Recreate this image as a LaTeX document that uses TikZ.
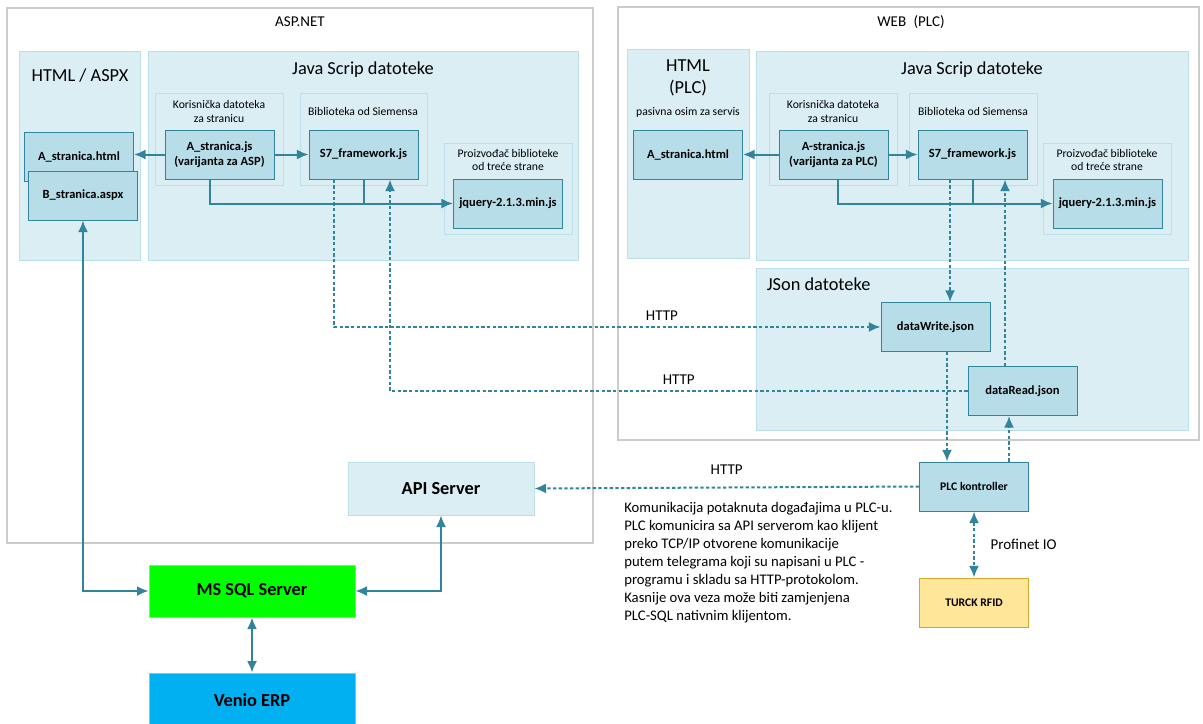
\documentclass[tikz,border=0pt]{standalone}
\usepackage{fontspec}
\setmainfont{Carlito}
\usetikzlibrary{arrows.meta}

\definecolor{tirkiz}{HTML}{31849B}
\definecolor{cvorplava}{HTML}{B7DDE8}
\definecolor{panelplava}{HTML}{DAEEF3}
\definecolor{rubplava}{HTML}{BCE0EA}
\definecolor{sivi}{HTML}{CCCCCC}
\definecolor{sqlzelena}{HTML}{00FF00}
\definecolor{erpplava}{HTML}{00B0F0}
\definecolor{rfidzuta}{HTML}{FFE699}
\definecolor{rfidrub}{HTML}{D4A82A}

\begin{document}
\begin{tikzpicture}[
      x=0.6pt, y=-0.6pt,
      >={Latex[length=7pt, width=6pt]},
      okvir/.style={draw=sivi, line width=0.8pt},
      panel/.style={draw=rubplava, fill=panelplava, line width=0.6pt},
      cvor/.style={draw=tirkiz, fill=cvorplava, line width=0.6pt, minimum width=65.4pt, minimum height=29.4pt, inner sep=1pt, align=center, font=\fontsize{7.5}{9}\selectfont\bfseries},
      veliki/.style={minimum width=123.6pt, minimum height=31.2pt, align=center, font=\fontsize{11}{13}\selectfont\bfseries},
      naslov/.style={font=\fontsize{11}{13.5}\selectfont, align=center},
      podnaslov/.style={font=\fontsize{7}{8.2}\selectfont, align=center},
      oznaka/.style={font=\fontsize{9}{11}\selectfont},
      strelica/.style={->, draw=tirkiz, line width=1.2pt},
      tocke/.style={->, draw=tirkiz, line width=1.2pt, dash pattern=on 2pt off 1.4pt}
    ]
      \useasboundingbox (0,0) rectangle (1203,724);

      % ASP.NET
      \draw[okvir] (7,8) rectangle (593,543);
      \node[oznaka] (aspnet) at (300,22) {ASP.NET};
      \draw[panel] (19,52) rectangle (140,260);
      \node[naslov] (htmlaspx) at (80,76) {HTML / ASPX};
      \draw[panel] (148,52) rectangle (578,260);
      \node[naslov] (jslijevo) at (363,70) {Java Scrip datoteke};
      \draw[panel] (155,94) rectangle (283,185);
      \node[podnaslov] (kor1) at (219,111.5) {Korisnička datoteka\\za stranicu};
      \draw[panel] (300,94) rectangle (427,185);
      \node[podnaslov] (bib1) at (363,111) {Biblioteka od Siemensa};
      \draw[panel] (444,143) rectangle (572,234);
      \node[podnaslov] (pro1) at (508,160) {Proizvođač biblioteke\\od treće strane};

      \node[cvor] (html1) at (79,156.5) {A\_stranica.html};
      \node[cvor] (aspx) at (83,195.5) {B\_stranica.aspx};
      \node[cvor] (ajs) at (219.5,154.5) {A\_stranica.js\\(varijanta za ASP)};
      \node[cvor] (s7a) at (363.5,154.5) {S7\_framework.js};
      \node[cvor] (jqa) at (508,203.5) {jquery-2.1.3.min.js};

      % WEB (PLC)
      \draw[okvir] (618,7) rectangle (1199,440);
      \node[oznaka] (web) at (911,22) {WEB\enspace(PLC)};
      \draw[panel] (627,50) rectangle (749,258);
      \node[naslov] (htmlplc) at (688,78) {HTML\\(PLC)};
      \node[podnaslov] (pasivna) at (688,112) {pasivna osim za servis};
      \draw[panel] (756,52) rectangle (1188,260);
      \node[naslov] (jsdesno) at (972,70) {Java Scrip datoteke};
      \draw[panel] (769,94) rectangle (897,185);
      \node[podnaslov] (kor2) at (833,111.5) {Korisnička datoteka\\za stranicu};
      \draw[panel] (909,94) rectangle (1037,185);
      \node[podnaslov] (bib2) at (973,111) {Biblioteka od Siemensa};
      \draw[panel] (1043,143) rectangle (1171,234);
      \node[podnaslov] (pro2) at (1107,160) {Proizvođač biblioteke\\od treće strane};

      \node[cvor] (html2) at (688,154.5) {A\_stranica.html};
      \node[cvor] (pjs) at (833.5,154.5) {A-stranica.js\\(varijanta za PLC)};
      \node[cvor] (s7b) at (972.5,154.5) {S7\_framework.js};
      \node[cvor] (jqb) at (1107.5,203.5) {jquery-2.1.3.min.js};

      \draw[panel] (756,268) rectangle (1188,430);
      \node[naslov, anchor=west] (json) at (761,284) {JSon datoteke};
      \node[cvor] (dw) at (935.5,327) {dataWrite.json};
      \node[cvor] (dr) at (1022.5,391) {dataRead.json};

      % donji dio
      \node[cvor, font=\fontsize{7}{8}\selectfont\bfseries] (plc) at (974,486.5) {PLC kontroller};
      \node[cvor, draw=rfidrub, fill=rfidzuta, font=\fontsize{7}{8}\selectfont\bfseries] (rfid) at (974,602.5) {TURCK RFID};
      \node[veliki, draw=rubplava, fill=panelplava, minimum width=111.6pt, minimum height=31.8pt] (api) at (441,488.5) {API Server};
      \node[veliki, draw=green!60!white, fill=sqlzelena] (sql) at (252,591) {MS SQL Server};
      \node[veliki, draw=erpplava!60!white, fill=erpplava, minimum height=32.4pt] (erp) at (252,700) {Venio ERP};
      \node[anchor=north west, inner sep=0pt, align=left, font=\fontsize{8.8}{10.8}\selectfont] (opis) at (624,502) {Komunikacija potaknuta događajima u PLC-u.\\PLC komunicira sa API serverom kao klijent\\preko TCP/IP otvorene komunikacije\\putem telegrama koji su napisani u PLC -\\programu i skladu sa HTTP-protokolom.\\Kasnije ova veza može biti zamjenjena\\PLC-SQL nativnim klijentom.};

      % veze lijevo
      \draw[strelica] (ajs.west) -- (ajs.west -| html1.east);
      \draw[strelica] (ajs.east) -- (s7a.west);
      \draw[strelica] ([xshift=-5.7pt]ajs.south) |- (jqa.west);
      \draw[tirkiz, line width=1.2pt] (s7a.south) -- (s7a.south |- jqa.west);

      % veze desno
      \draw[strelica] (pjs.west) -- (html2.east);
      \draw[strelica] (pjs.east) -- (s7b.west);
      \draw[strelica] ([xshift=2.7pt]pjs.south) |- (jqb.west);
      \draw[tirkiz, line width=1.2pt] (s7b.south) -- (s7b.south |- jqb.west);

      % HTTP veze
      \draw[tocke] ([xshift=-17.7pt]s7a.south) |- node[oznaka, above, pos=0.8] {HTTP} (dw.west);
      \draw[tocke] (dr.west) -| node[oznaka, above, pos=0.25] {HTTP} ([xshift=15.9pt]s7a.south);
      \draw[tocke] ([xshift=-13.5pt]s7b.south) -- ([xshift=-13.5pt]s7b.south |- dw.north);
      \draw[tocke] ([xshift=-10.5pt]dr.north) -- ([xshift=-10.5pt]dr.north |- s7b.south);
      \draw[tocke] ([xshift=6.9pt]dw.south) -- ([xshift=6.9pt]dw.south |- plc.north);
      \draw[tocke] ([xshift=21pt]plc.north) -- ([xshift=21pt]plc.north |- dr.south);
      \draw[tocke] (plc.west) -- node[oznaka, above=4pt] {HTTP} (api.east);
      \draw[tocke, <->] (plc.south) -- node[oznaka, right=6pt] {Profinet IO} (rfid.north);

      % baza
      \draw[strelica, <->] (aspx.south) |- (sql.west);
      \draw[strelica, <->] (sql.east) -| (api.south);
      \draw[strelica, <->] (sql.south) -- (erp.north);
    \end{tikzpicture}
\end{document}
